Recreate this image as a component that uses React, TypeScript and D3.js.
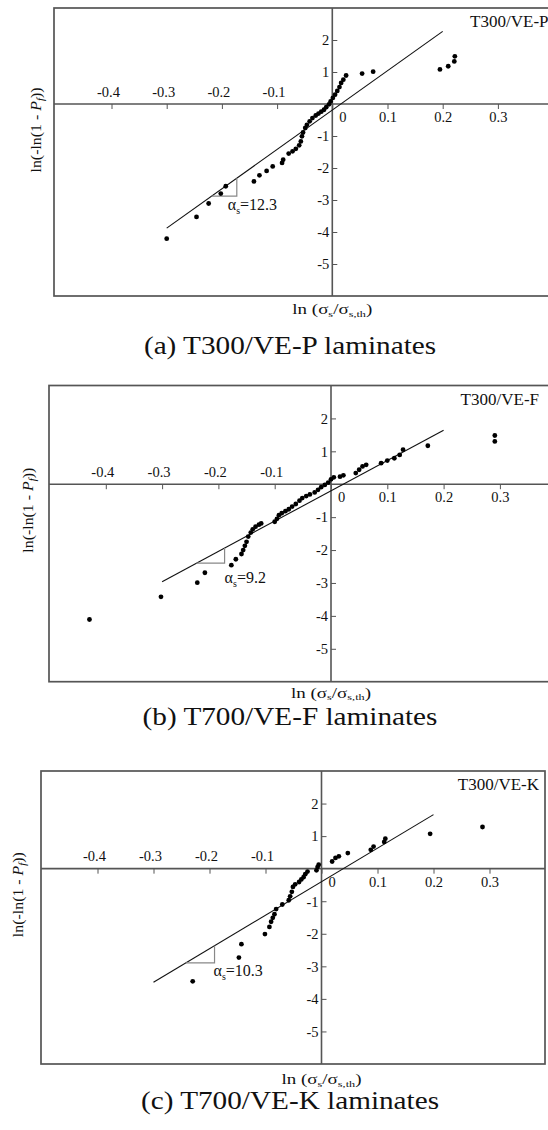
import React, { useEffect, useRef } from "react";
import * as d3 from "d3";

const W = 548;
const H = 1130;
const FONT = "'Liberation Serif', 'Times New Roman', serif";

// points: [ln(σs/σs,th), ln(-ln(1-Pf))]
const pointsP: [number, number][] = [
  [-0.3, -4.21], [-0.246, -3.53], [-0.224, -3.11], [-0.202, -2.8], [-0.193, -2.57],
  [-0.142, -2.42], [-0.132, -2.23], [-0.119, -2.09], [-0.108, -1.95], [-0.091, -1.84],
  [-0.089, -1.74], [-0.079, -1.55], [-0.072, -1.48], [-0.066, -1.4], [-0.06, -1.29],
  [-0.057, -1.17], [-0.055, -1.01], [-0.053, -0.89], [-0.049, -0.75], [-0.046, -0.65],
  [-0.041, -0.54], [-0.036, -0.44], [-0.03, -0.36], [-0.025, -0.3], [-0.02, -0.24],
  [-0.015, -0.18], [-0.011, -0.1], [-0.006, -0.01], [-0.003, 0.08], [0.001, 0.19],
  [0.005, 0.29], [0.009, 0.41], [0.013, 0.53], [0.016, 0.66], [0.02, 0.76],
  [0.025, 0.89], [0.054, 0.95], [0.074, 1.01], [0.195, 1.08], [0.21, 1.18],
  [0.221, 1.33], [0.222, 1.49],
];

const pointsF: [number, number][] = [
  [-0.429, -4.11], [-0.302, -3.42], [-0.2375, -2.99], [-0.224, -2.69], [-0.177, -2.46],
  [-0.169, -2.28], [-0.159, -2.12], [-0.156, -2.0], [-0.153, -1.87], [-0.15, -1.75],
  [-0.147, -1.59], [-0.1425, -1.47], [-0.139, -1.37], [-0.134, -1.29], [-0.128, -1.23],
  [-0.124, -1.19], [-0.1, -1.14], [-0.096, -1.05], [-0.0925, -0.94], [-0.0875, -0.88],
  [-0.081, -0.82], [-0.075, -0.76], [-0.069, -0.68], [-0.0625, -0.6], [-0.056, -0.5],
  [-0.051, -0.42], [-0.044, -0.36], [-0.0375, -0.31], [-0.029, -0.25], [-0.023, -0.17],
  [-0.0175, -0.09], [-0.011, -0.02], [-0.005, 0.05], [0.0, 0.15], [0.005, 0.21],
  [0.016, 0.23], [0.022, 0.27], [0.044, 0.34], [0.05, 0.44], [0.056, 0.54],
  [0.0625, 0.59], [0.089, 0.64], [0.1, 0.72], [0.1125, 0.79], [0.122, 0.89],
  [0.128, 1.05], [0.172, 1.17], [0.291, 1.3], [0.291, 1.48],
];

const pointsK: [number, number][] = [
  [-0.23, -3.46], [-0.1475, -2.73], [-0.143, -2.32], [-0.101, -2.01], [-0.093, -1.79],
  [-0.09, -1.63], [-0.087, -1.51], [-0.084, -1.4], [-0.081, -1.24], [-0.07, -1.1],
  [-0.0585, -0.97], [-0.056, -0.85], [-0.053, -0.71], [-0.051, -0.56], [-0.047, -0.48],
  [-0.04, -0.41], [-0.036, -0.33], [-0.032, -0.26], [-0.029, -0.17], [-0.025, -0.09],
  [-0.009, -0.05], [-0.007, 0.05], [-0.005, 0.12], [0.019, 0.22], [0.025, 0.33],
  [0.031, 0.38], [0.047, 0.48], [0.088, 0.58], [0.093, 0.68], [0.112, 0.82],
  [0.114, 0.92], [0.194, 1.07], [0.2875, 1.28],
];

const allPoints = [pointsP, pointsF, pointsK];
const slopes = [12.3, 9.2, 10.3];
const intercepts = [-0.19, -0.2, -0.4];
const fitRange = [-0.3, 0.2];
const triangleX = [[-0.2185, -0.173], [-0.239, -0.189], [-0.242, -0.191]];
const titles = ["T300/VE-P", "T300/VE-F", "T300/VE-K"];
const captions = ["(a) T300/VE-P laminates", "(b) T700/VE-F laminates", "(c) T700/VE-K laminates"];
const xTicks = [-0.4, -0.3, -0.2, -0.1, 0, 0.1, 0.2, 0.3];
const yTicks = [-5, -4, -3, -2, -1, 1, 2];
const xDomain = [-0.5, 0.4];
const yDomain = [-6, 3];

// pixel placement of each panel inside the page
const layouts = [
  { zeroX: 332.3, unit: 55.2, top: 8, bottom: 296, left: 54, right: 562, titleX: 548.5, yLabelX: 36, xLabelY: 314, captionY: 354, alphaDx: -9, alphaDy: 14 },
  { zeroX: 331, unit: 56.3, top: 385.5, bottom: 681.7, left: 49, right: 562, titleX: 539, yLabelX: 28, xLabelY: 697.5, captionY: 725, alphaDx: 0, alphaDy: 20 },
  { zeroX: 321.5, unit: 56, top: 771, bottom: 1064, left: 41, right: 545, titleX: 539, yLabelX: 18, xLabelY: 1084, captionY: 1109, alphaDx: -1, alphaDy: 13 },
];

const fmt = (v: number) => String(v);

function drawPanel(g: d3.Selection<SVGGElement, unknown, null, undefined>, i: number) {
  const L = layouts[i];
  const x = d3.scaleLinear().domain(xDomain).range([L.zeroX - 5 * L.unit, L.zeroX + 4 * L.unit]);
  const y = d3.scaleLinear().domain(yDomain).range([L.bottom, L.top]);
  const x0 = x(0);
  const y0 = y(0);

  g.append("rect")
    .attr("x", L.left)
    .attr("y", L.top)
    .attr("width", L.right - L.left)
    .attr("height", L.bottom - L.top)
    .attr("fill", "none")
    .attr("stroke", "#555")
    .attr("stroke-width", 1.7);

  g.append("line")
    .attr("x1", L.left).attr("x2", L.right)
    .attr("y1", y0).attr("y2", y0)
    .attr("stroke", "#555").attr("stroke-width", 1.6);
  g.append("line")
    .attr("x1", x0).attr("x2", x0)
    .attr("y1", L.top).attr("y2", L.bottom)
    .attr("stroke", "#555").attr("stroke-width", 1.6);

  const xa = g.append("g")
    .attr("transform", `translate(0,${y0})`)
    .call(d3.axisBottom(x).tickValues(xTicks).tickSize(5).tickSizeOuter(0).tickFormat(fmt as any));
  xa.select(".domain").remove();
  xa.attr("font-family", FONT).attr("font-size", 14.5);
  xa.selectAll("line").attr("stroke", "#555");
  xa.selectAll<SVGTextElement, number>("text")
    .attr("fill", "#111")
    .attr("dy", null)
    .attr("y", (d) => (d < 0 ? -7.5 : 18))
    .attr("x", (d) => (d < 0 ? -3.5 : d === 0 ? 10 : 0));

  const ya = g.append("g")
    .attr("transform", `translate(${x0},0)`)
    .call(d3.axisRight(y).tickValues(yTicks).tickSize(5).tickSizeOuter(0).tickFormat(fmt as any));
  ya.select(".domain").remove();
  ya.attr("font-family", FONT).attr("font-size", 14.5);
  ya.selectAll("line").attr("stroke", "#555");
  ya.selectAll("text")
    .attr("fill", "#111")
    .attr("x", -3)
    .attr("dy", "0.33em")
    .attr("text-anchor", "end");

  // fitted Weibull line
  const m = slopes[i];
  const b = intercepts[i];
  const line = d3.line<number>().x((v) => x(v)).y((v) => y(m * v + b));
  g.append("path")
    .attr("d", line(fitRange))
    .attr("fill", "none")
    .attr("stroke", "#111")
    .attr("stroke-width", 1.1);

  // slope triangle
  const [t0, t1] = triangleX[i];
  const yl0 = m * t0 + b;
  const yl1 = m * t1 + b;
  const tri = d3.line<[number, number]>().x((d) => x(d[0])).y((d) => y(d[1]));
  g.append("path")
    .attr("d", tri([[t0, yl0], [t1, yl0], [t1, yl1]]))
    .attr("fill", "none")
    .attr("stroke", "#888")
    .attr("stroke-width", 1.2);

  const at = g.append("text")
    .attr("x", x(t1) + L.alphaDx)
    .attr("y", y(yl0) + L.alphaDy)
    .attr("font-family", FONT)
    .attr("font-size", 16)
    .attr("fill", "#111");
  at.append("tspan").text("α");
  at.append("tspan").attr("dy", 4).attr("font-size", 10).text("s");
  at.append("tspan").attr("dy", -4).text("=" + m);

  // data points
  g.selectAll(".pt")
    .data(allPoints[i])
    .join("circle")
    .attr("class", "pt")
    .attr("cx", (d) => x(d[0]))
    .attr("cy", (d) => y(d[1]))
    .attr("r", 2.4)
    .attr("fill", "#000");

  g.append("text")
    .attr("x", L.titleX)
    .attr("y", L.top + 19)
    .attr("text-anchor", "end")
    .attr("font-family", FONT)
    .attr("font-size", 17)
    .attr("fill", "#111")
    .text(titles[i]);

  // y axis title
  const yl = g.append("text")
    .attr("transform", `translate(${L.yLabelX},${y0 + 26}) rotate(-90)`)
    .attr("text-anchor", "middle")
    .attr("dy", "0.35em")
    .attr("font-family", FONT)
    .attr("font-size", 15)
    .attr("fill", "#111")
    .attr("textLength", 85)
    .attr("lengthAdjust", "spacingAndGlyphs");
  yl.append("tspan").text("ln(-ln(1 - ");
  yl.append("tspan").attr("font-style", "italic").text("P");
  yl.append("tspan").attr("dy", 3).attr("font-size", 10).attr("font-style", "italic").text("f");
  yl.append("tspan").attr("dy", -3).text("))");

  // x axis title
  const xl = g.append("text")
    .attr("x", L.zeroX)
    .attr("y", L.xLabelY)
    .attr("text-anchor", "middle")
    .attr("font-family", FONT)
    .attr("font-size", 14)
    .attr("fill", "#111")
    .attr("textLength", 80)
    .attr("lengthAdjust", "spacingAndGlyphs");
  xl.append("tspan").text("ln (σ");
  xl.append("tspan").attr("dy", 2.5).attr("font-size", 9).text("s");
  xl.append("tspan").attr("dy", -2.5).text("/σ");
  xl.append("tspan").attr("dy", 2.5).attr("font-size", 9).text("s,th");
  xl.append("tspan").attr("dy", -2.5).text(")");

  g.append("text")
    .attr("transform", `translate(290,${L.captionY}) scale(1.17,1)`)
    .attr("text-anchor", "middle")
    .attr("font-family", FONT)
    .attr("font-size", 25)
    .attr("fill", "#111")
    .text(captions[i]);
}

export default function App() {
  const ref = useRef<SVGSVGElement>(null);

  useEffect(() => {
    const svg = d3.select(ref.current);
    svg.selectAll("*").remove();
    svg.append("rect").attr("width", W).attr("height", H).attr("fill", "#fff");
    [0, 1, 2].forEach((i) => drawPanel(svg.append("g"), i));
  }, []);

  return (
    <svg
      ref={ref}
      width={W}
      height={H}
      style={{ position: "absolute", left: 0, top: 0, display: "block" }}
    />
  );
}
